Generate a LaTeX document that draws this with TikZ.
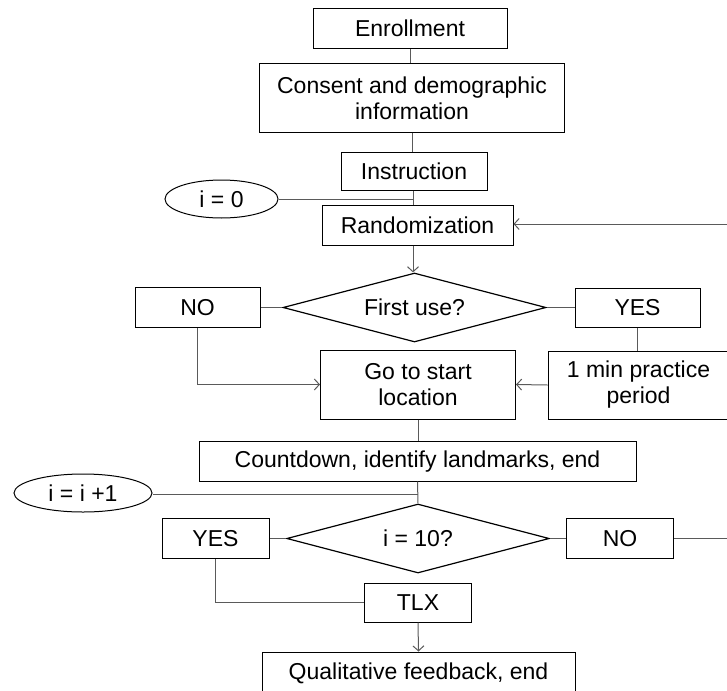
\documentclass[tikz,border=0pt]{standalone}
\usepackage{fontspec}
\setmainfont{Liberation Sans}
\usetikzlibrary{shapes.geometric,arrows.meta}
\definecolor{conn}{HTML}{5A5A5A}
\begin{document}
\begin{tikzpicture}[x=1pt,y=-1pt,
  font=\fontsize{23}{26}\selectfont,
  box/.style={draw=black,line width=1pt,rectangle,inner sep=0pt,align=center},
  oval/.style={draw=black,line width=1pt,ellipse,inner sep=0pt},
  decide/.style={draw=black,line width=1.2pt,diamond,inner sep=0pt,shape aspect=3.8},
  link/.style={draw=conn,line width=1pt},
  arr/.style={link,-{Straight Barb[length=5pt,width=11pt,line width=1pt]}}]
\useasboundingbox (0,0) rectangle (727,690);
\clip (0,0) rectangle (727,690);
% nodes
\node[box,minimum width=194pt,minimum height=40pt] (enr) at (410,28.5) {Enrollment};
\node[box,minimum width=305pt,minimum height=68pt] (cons) at (412,98) {Consent and demographic\\information};
\node[box,minimum width=146pt,minimum height=38pt] (inst) at (414,171) {Instruction};
\node[oval,minimum width=113pt,minimum height=38pt] (i0) at (221.5,199) {i = 0};
\node[box,minimum width=191pt,minimum height=40pt] (rand) at (417.5,225) {Randomization};
\node[decide,minimum width=263pt,minimum height=69pt] (d1) at (414.5,307.5) {First use?};
\node[box,minimum width=125pt,minimum height=40pt] (no1) at (197.5,307.5) {NO};
\node[box,minimum width=125pt,minimum height=39pt] (yes1) at (637.5,307.5) {YES};
\node[box,minimum width=195pt,minimum height=69pt] (go) at (418,384.5) {Go to start\\location};
\node[box,minimum width=181pt,minimum height=68pt] (prac) at (638.5,385) {1 min practice\\period};
\node[box,minimum width=437pt,minimum height=39.5pt] (cd) at (417.5,461.25) {Countdown, identify landmarks, end};
\node[oval,minimum width=138pt,minimum height=38pt] (i1) at (83,493) {i = i +1};
\node[decide,minimum width=262.5pt,minimum height=69pt] (d2) at (418,538.5) {i = 10?};
\node[box,minimum width=107pt,minimum height=40pt] (yes2) at (215.5,538.5) {YES};
\node[box,minimum width=107.5pt,minimum height=40pt] (no2) at (620,538.5) {NO};
\node[box,minimum width=107.5pt,minimum height=39pt] (tlx) at (418,602.5) {TLX};
\node[box,minimum width=313pt,minimum height=42pt] (qual) at (418.5,673) {Qualitative feedback, end};
% helper coordinates
\coordinate (j0) at (413,199);
\coordinate (j1) at (418,494);
\coordinate (loopA) at (740,538.5);
\coordinate (loopB) at (740,224);
% connectors
\draw[link] (enr.south) -- (enr.south |- cons.north);
\draw[link] (cons.south) -- (cons.south |- inst.north);
\draw[link] (j0 |- inst.south) -- (j0 |- rand.north);
\draw[link] (i0.east) -- (j0);
\draw[arr] (j0 |- rand.south) -- (j0 |- d1.north);
\draw[link] (d1.west) -- (no1.east);
\draw[link] (d1.east) -- (yes1.west);
\draw[arr] (no1.south) -- (no1.south |- go.west) -- (go.west);
\draw[link] (yes1.south) -- (yes1.south |- prac.north);
\draw[arr] (prac.west) -- (go.east);
\draw[link] (go.south) -- (go.south |- cd.north);
\draw[link] (cd.south) -- (d2.north);
\draw[link] (i1.east |- j1) -- (j1);
\draw[link] (d2.west) -- (yes2.east);
\draw[link] (d2.east) -- (no2.west);
\draw[link] (yes2.south) -- (yes2.south |- tlx.west) -- (tlx.west);
\draw[arr] (tlx.south) -- (qual.north);
\draw[arr] (no2.east) -- (loopA) -- (loopB) -- (rand.east |- loopB);
\end{tikzpicture}
\end{document}
